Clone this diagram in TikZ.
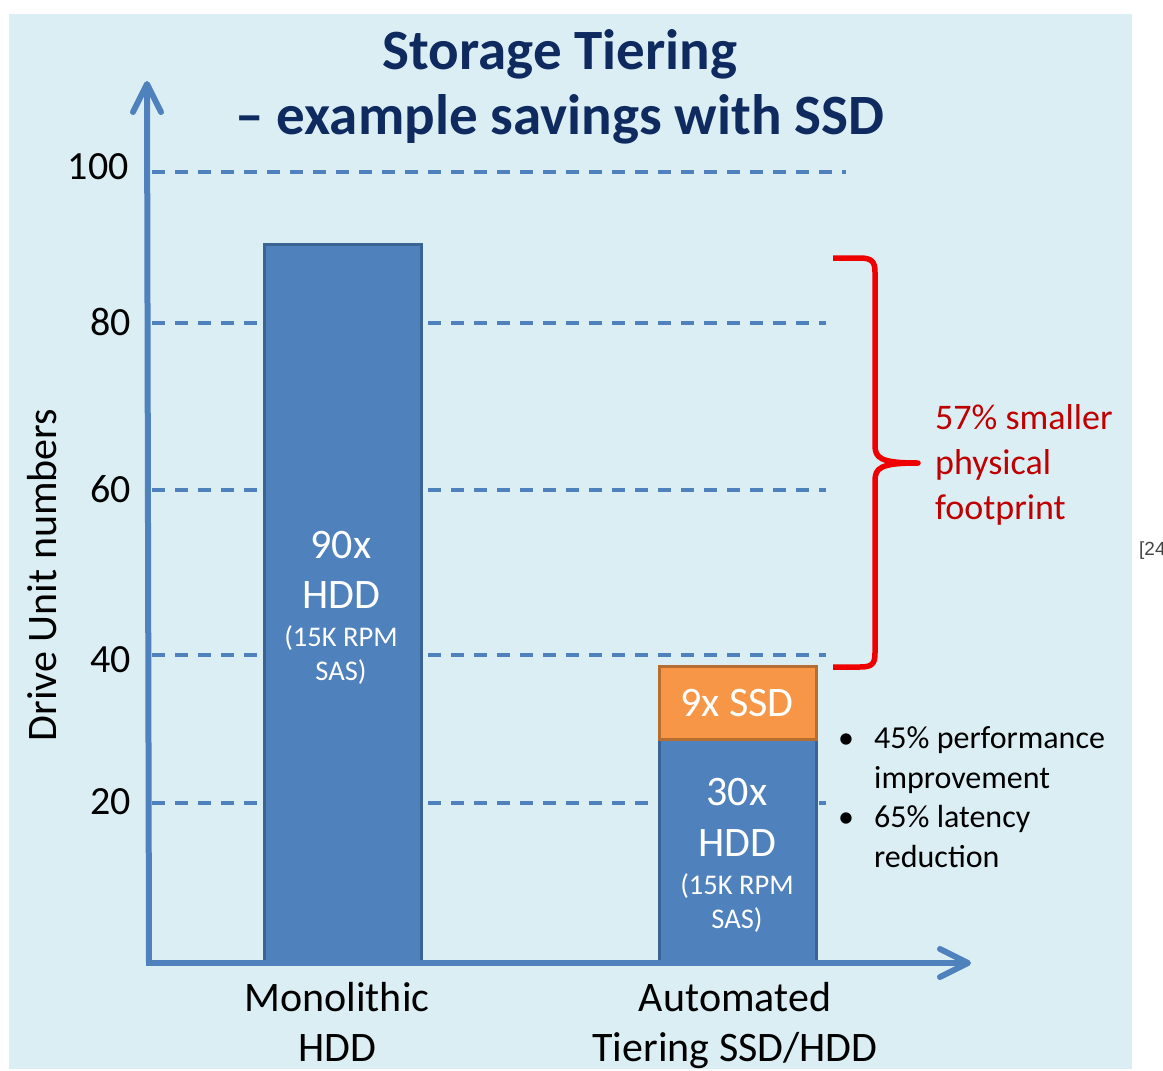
\documentclass[tikz,border=0pt]{standalone}
\usepackage{fontspec}
\setmainfont{Carlito}
\newfontfamily\reffont{Liberation Sans}
\definecolor{panelbg}{HTML}{DBEEF4}
\definecolor{axisblue}{HTML}{4F81BD}
\definecolor{barblue}{HTML}{4F81BD}
\definecolor{barborder}{HTML}{3B6494}
\definecolor{ssdorange}{HTML}{F79646}
\definecolor{ssdborder}{HTML}{B66D31}
\definecolor{titlenavy}{HTML}{0F2A5F}
\definecolor{bracered}{HTML}{EE0000}
\definecolor{notered}{HTML}{C00000}
\definecolor{refgray}{HTML}{444444}
\newcommand{\fs}[2]{\fontsize{#1}{#2}\selectfont}
\begin{document}
% multi-line nodes with anchor=base sit on the baseline of their last line
\begin{tikzpicture}[x=1pt,y=-1pt,
  grid/.style={draw=axisblue,line width=3.5pt,dash pattern=on 13pt off 10pt},
  axisline/.style={draw=axisblue,line width=6pt},
  axistip/.style={draw=axisblue,line width=6pt,line cap=round,line join=round},
  hddbar/.style={draw=barborder,fill=barblue,line width=3pt,anchor=north west,inner sep=0pt},
  ssdbar/.style={draw=ssdborder,fill=ssdorange,line width=3pt,anchor=north west,inner sep=0pt},
  bigtxt/.style={text=white,font=\fs{42}{48},anchor=base,inner sep=0pt},
  smalltxt/.style={text=white,font=\fs{28.5}{34},anchor=base,align=center,inner sep=0pt},
  ticklbl/.style={font=\fs{40}{48},anchor=east,inner sep=0pt},
  catlbl/.style={font=\fs{42}{50},anchor=base,align=center,inner sep=0pt},
  brace/.style={draw=bracered,line width=5.5pt,line join=round},
  note/.style={font=\fs{32}{39.5},anchor=base west,align=left,inner sep=0pt}]
\useasboundingbox (0,0) rectangle (1163,1071);
\fill[white] (0,0) rectangle (1163,1071);
\fill[panelbg] (9,14) rectangle (1132,1069);

% title
\node[font=\bfseries\fs{57}{65},text=titlenavy,align=center,anchor=base,inner sep=0pt]
  (title) at (560,134) {Storage Tiering\\– example savings with SSD};

% dashed grid lines
\draw[grid] (152,172) -- (846,172);
\foreach \yy in {323,490,655,803} \draw[grid] (152,\yy) -- (826,\yy);

% tick labels
\node[ticklbl] (t100) at (129,167) {100};
\node[ticklbl] (t80)  at (131,322) {80};
\node[ticklbl] (t60)  at (131,489) {60};
\node[ticklbl] (t40)  at (131,660) {40};
\node[ticklbl] (t20)  at (131,802) {20};

% axis title
\node[font=\fs{42}{48},rotate=90,inner sep=0pt] (ylab) at (42,575) {Drive Unit numbers};

% monolithic bar
\node[hddbar,minimum width=157pt,minimum height=720pt] (mono) at (263,243) {};
\node[bigtxt] (mono1) at (341,558) {90x};
\node[bigtxt] (mono2) at (341,608) {HDD};
\node[smalltxt] (mono3) at (341,680) {(15K RPM\\SAS)};

% tiered bar
\node[hddbar,minimum width=157pt,minimum height=225pt] (tierhdd) at (658,738) {};
\node[ssdbar,minimum width=157pt,minimum height=73pt] (tierssd) at (658,665) {};
\node[bigtxt] (ssd1) at (737,716) {9x SSD};
\node[bigtxt] (tier1) at (737,805) {30x};
\node[bigtxt] (tier2) at (737,856) {HDD};
\node[smalltxt] (tier3) at (737,928) {(15K RPM\\SAS)};

% axes
\draw[axisline] (149,963) -- (147,84);
\draw[axistip] (133,112) -- (147,84) -- (161,112);
\draw[axisline] (146,963) -- (968,963);
\draw[axistip] (940,949) -- (968,963) -- (940,977);

% category labels
\node[catlbl] (cat1) at (337,1061) {Monolithic\\HDD};
\node[catlbl] (cat2) at (735,1061) {Automated\\Tiering SSD/HDD};

% brace
\coordinate (tip) at (918,463);
\draw[brace] (833,258) -- (860,258) .. controls (872,258) and (875,262) .. (875,272)
  -- (875,445) .. controls (875,458) and (880,463) .. (tip)
  .. controls (880,463) and (875,468) .. (875,481)
  -- (875,653) .. controls (875,664) and (872,667) .. (860,667) -- (833,667);
\node[note,text=notered,font=\fs{36}{45}] (saving) at (935,519) {57\% smaller\\physical\\footprint};

% bullet notes
\node[font=\fs{32}{39.5},anchor=base,inner sep=0pt] (b1) at (846,748) {•};
\node[font=\fs{32}{39.5},anchor=base,inner sep=0pt] (b2) at (846,827) {•};
\node[note] (n1) at (874,788) {45\% performance\\improvement};
\node[note] (n2) at (874,867) {65\% latency\\reduction};

% reference mark
\node[font=\reffont\fontsize{19}{22}\selectfont,text=refgray,anchor=base west,inner sep=0pt] (ref) at (1139,555) {[24]};
\end{tikzpicture}
\end{document}
